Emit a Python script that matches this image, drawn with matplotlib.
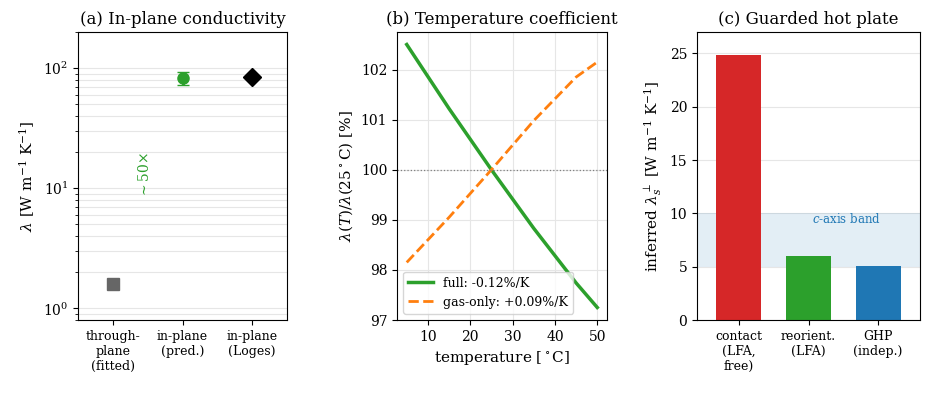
import numpy as np
import matplotlib.pyplot as plt

plt.rcParams['font.family'] = 'DejaVu Serif'
plt.rcParams['mathtext.fontset'] = 'dejavuserif'

# (a) in-plane conductivity
a_labels = ['through-\nplane\n(fitted)', 'in-plane\n(pred.)', 'in-plane\n(Loges)']
a_vals = [1.6, 83.0, 85.0]
a_err = 10.0

# (b) temperature coefficient
temp = [5, 15, 25, 35, 45, 50]
full = [102.5, 101.22, 100.0, 98.83, 97.74, 97.25]
gas = [98.15, 99.05, 100.0, 100.98, 101.85, 102.15]

# (c) guarded hot plate
c_labels = ['contact\n(LFA,\nfree)', 'reorient.\n(LFA)', 'GHP\n(indep.)']
c_vals = [24.8, 6.0, 5.05]
c_colors = ['#d62728', '#2ca02c', '#1f77b4']
band = (5, 10)

fig = plt.figure(figsize=(9.26, 4.04), dpi=100)
ax1 = fig.add_axes([78/926, 1-320/404, 209/926, 288/404])
ax2 = fig.add_axes([397/926, 1-320/404, 210/926, 288/404])
ax3 = fig.add_axes([697/926, 1-320/404, 223/926, 288/404])

ax1.set_yscale('log')
ax1.plot(0, a_vals[0], 's', color='#666666', ms=8)
ax1.errorbar(1, a_vals[1], yerr=a_err, fmt='o', color='#2ca02c', ms=8, capsize=4, elinewidth=2)
ax1.plot(2, a_vals[2], 'D', color='black', ms=9)
ax1.text(0.45, 13, r'$\sim$50×', color='#2ca02c', rotation=90, ha='center', va='center', fontsize=10)
ax1.set_xlim(-0.5, 2.5)
ax1.set_ylim(0.8, 200)
ax1.set_xticks([0, 1, 2])
ax1.set_xticklabels(a_labels, fontsize=9)
ax1.set_ylabel(r'$\lambda$ [W m$^{-1}$ K$^{-1}$]', fontsize=11)
ax1.set_title('(a) In-plane conductivity', fontsize=12)
ax1.grid(True, which='both', axis='y', color='#e6e6e6', lw=0.8)
ax1.set_axisbelow(True)

ax2.plot(temp, full, color='#2ca02c', lw=2.5, label='full: -0.12%/K')
ax2.plot(temp, gas, color='#ff7f0e', lw=2, ls='--', label='gas-only: +0.09%/K')
ax2.axhline(100, color='gray', ls=':', lw=0.9)
ax2.set_xlim(2.7, 52.3)
ax2.set_ylim(97, 102.75)
ax2.set_xlabel(r'temperature [$^\circ$C]', fontsize=11)
ax2.set_ylabel(r'$\lambda(T)/\lambda(25^\circ$C) [%]', fontsize=11)
ax2.set_title('(b) Temperature coefficient', fontsize=12)
ax2.grid(True, color='#e6e6e6', lw=0.8)
ax2.legend(loc='lower left', fontsize=9)

x = np.arange(len(c_vals))
ax3.axhspan(band[0], band[1], color='#1f77b4', alpha=0.12, lw=0)
ax3.bar(x, c_vals, color=c_colors, width=0.65)
ax3.text(1.55, 9.1, r'$c$-axis band', color='#1f77b4', ha='center', fontsize=8.5)
ax3.set_xlim(-0.6, 2.6)
ax3.set_ylim(0, 27)
ax3.set_xticks(x)
ax3.set_xticklabels(c_labels, fontsize=9)
ax3.set_ylabel(r'inferred $\lambda_s^\perp$ [W m$^{-1}$ K$^{-1}$]', fontsize=11)
ax3.set_title('(c) Guarded hot plate', fontsize=12)
ax3.grid(True, axis='y', color='#e6e6e6', lw=0.8)
ax3.set_axisbelow(True)

fig.savefig('out.png', dpi=100)
